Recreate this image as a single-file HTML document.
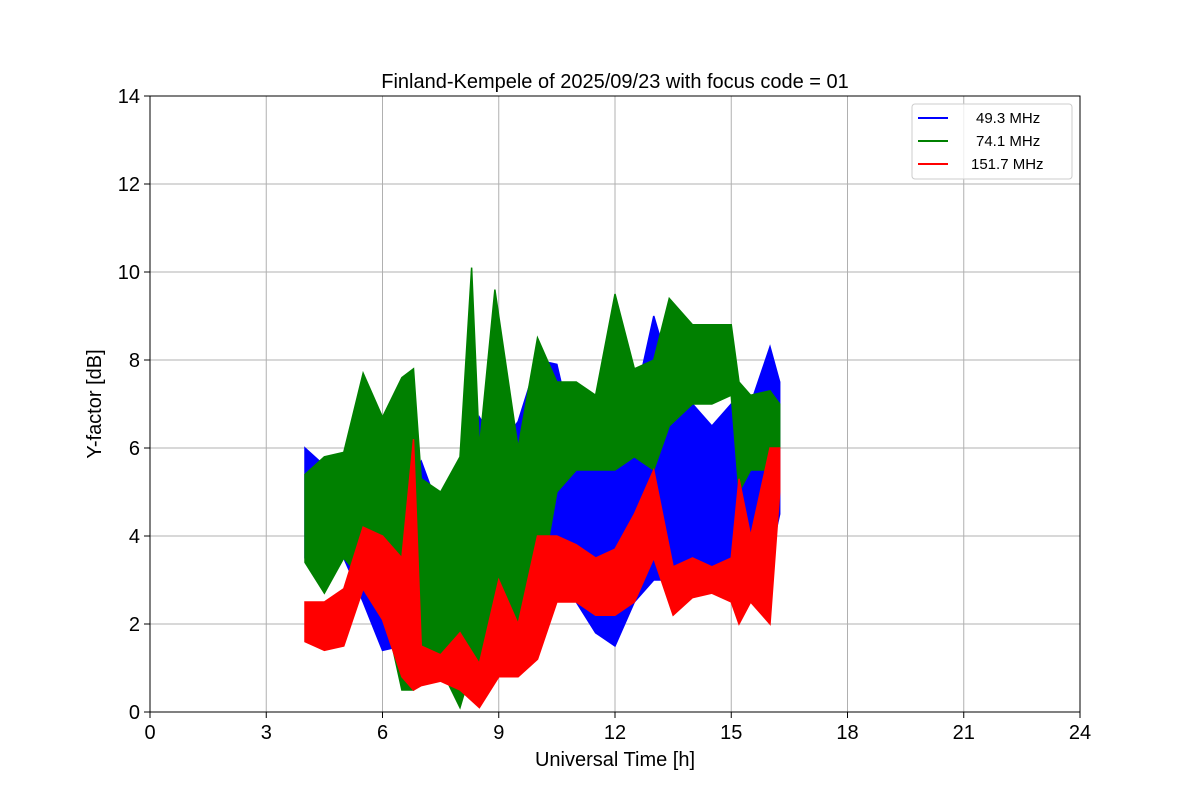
<!DOCTYPE html>
<html><head><meta charset="utf-8"><style>
body{margin:0;background:#fff;font-family:"Liberation Sans","DejaVu Sans",sans-serif;}
</style></head><body>
<svg width="1200" height="800" xmlns="http://www.w3.org/2000/svg" font-family="Liberation Sans, DejaVu Sans, sans-serif">
<rect width="1200" height="800" fill="#fff"/>
<g id="grid"></g>
<g id="series"></g>
<rect x="150" y="96" width="930" height="616" fill="none" stroke="#000" stroke-width="1"/>
<g id="ticks"></g>
<text x="615" y="88" text-anchor="middle" font-size="20">Finland-Kempele of 2025/09/23 with focus code = 01</text>
<text x="615" y="766" text-anchor="middle" font-size="20">Universal Time [h]</text>
<text transform="translate(101,404) rotate(-90)" text-anchor="middle" font-size="20">Y-factor [dB]</text>
<g>
<rect x="912" y="104" width="160" height="75" rx="3" fill="#fff" fill-opacity="0.8" stroke="#ccc"/>
<g><line x1="918" y1="118" x2="948" y2="118" stroke="#0000ff" stroke-width="2"/><text x="976" y="123" font-size="15">49.3 MHz</text></g>
<g><line x1="918" y1="141" x2="948" y2="141" stroke="#008000" stroke-width="2"/><text x="976" y="146" font-size="15">74.1 MHz</text></g>
<g><line x1="918" y1="164" x2="948" y2="164" stroke="#ff0000" stroke-width="2"/><text x="971" y="169" font-size="15">151.7 MHz</text></g>
</g>
</svg>
<script>
const xTicks=[0,3,6,9,12,15,18,21,24];
const yTicks=[0,2,4,6,8,10,12,14];
const blueT=[4,4.5,5,5.5,6,6.5,7,7.5,8,8.5,9,9.5,10,10.5,11,11.5,12,12.5,13,13.5,14,14.5,15,15.5,16,16.25];
const blueLo=[3.5,3.2,3.5,2.5,1.4,1.5,1,1,0.5,1,2,2.5,2.5,2.8,2.5,1.8,1.5,2.5,3,3,3,3,3,3,3.5,4.5];
const blueHi=[6,5.6,5.5,7,4.5,5,5.7,4.5,3,6.7,6,6.6,8,7.9,6,7.2,6,7,9,7.5,7,6.5,7,7,8.3,7.5];
const greenT=[4,4.5,5,5.5,6,6.5,6.8,7,7.5,8,8.3,8.5,8.9,9.5,10,10.5,11,11.5,12,12.5,13,13.4,14,14.5,15,15.2,15.5,16,16.25];
const greenLo=[3.4,2.7,3.5,3,2.5,0.5,0.5,1.5,1,0.1,1,1,1.5,2,2.5,5,5.5,5.5,5.5,5.8,5.5,6.5,7,7,7.2,5,5.5,5.5,6];
const greenHi=[5.4,5.8,5.9,7.7,6.7,7.6,7.8,5.3,5,5.8,10.1,6,9.6,6,8.5,7.5,7.5,7.2,9.5,7.8,8,9.4,8.8,8.8,8.8,7.5,7.2,7.3,7];
const redT=[4,4.5,5,5.5,6,6.5,6.8,7,7.5,8,8.5,9,9.5,10,10.5,11,11.5,12,12.5,13,13.5,14,14.5,15,15.2,15.5,16,16.25];
const redLo=[1.6,1.4,1.5,2.8,2.1,0.8,0.5,0.6,0.7,0.5,0.1,0.8,0.8,1.2,2.5,2.5,2.2,2.2,2.5,3.5,2.2,2.6,2.7,2.5,2,2.5,2,5];
const redHi=[2.5,2.5,2.8,4.2,4,3.5,6.2,1.5,1.3,1.8,1.1,3,2,4,4,3.8,3.5,3.7,4.5,5.5,3.3,3.5,3.3,3.5,5.3,4,6,6];
const NS="http://www.w3.org/2000/svg";
const X=t=>150+t*930/24, Y=v=>712-v*616/14;
function mk(tag,attrs,parent){const e=document.createElementNS(NS,tag);for(const k in attrs)e.setAttribute(k,attrs[k]);parent.appendChild(e);return e;}
const grid=document.getElementById('grid'),ticks=document.getElementById('ticks'),ser=document.getElementById('series');
xTicks.forEach(t=>{
 const g=mk('line',{x1:X(t),x2:X(t),y1:96,y2:712,stroke:'#b0b0b0','stroke-width':1},grid);
 
 
 mk('line',{x1:X(t),x2:X(t),y1:712,y2:718,stroke:'#000'},ticks);
 const l=mk('text',{x:X(t),y:739,'text-anchor':'middle','font-size':20},ticks);l.textContent=t;
 
 
});
yTicks.forEach(v=>{
 const g=mk('line',{x1:150,x2:1080,y1:Y(v),y2:Y(v),stroke:'#b0b0b0','stroke-width':1},grid);
 
 
 mk('line',{x1:144,x2:150,y1:Y(v),y2:Y(v),stroke:'#000'},ticks);
 const l=mk('text',{x:140,y:Y(v)+7,'text-anchor':'end','font-size':20},ticks);l.textContent=v;
 
 
});
function band(T,lo,hi,color,name){
 let p=T.map((t,i)=>X(t)+','+Y(hi[i])).join(' ')+' '+T.slice().reverse().map((t,j)=>X(t)+','+Y(lo[T.length-1-j])).join(' ');
 const e=mk('polygon',{points:p,fill:color,stroke:color,'stroke-width':1.5},ser);
 
 
}
band(blueT,blueLo,blueHi,'#0000ff','series-49-3-mhz');
band(greenT,greenLo,greenHi,'#008000','series-74-1-mhz');
band(redT,redLo,redHi,'#ff0000','series-151-7-mhz');
</script>
</body></html>
